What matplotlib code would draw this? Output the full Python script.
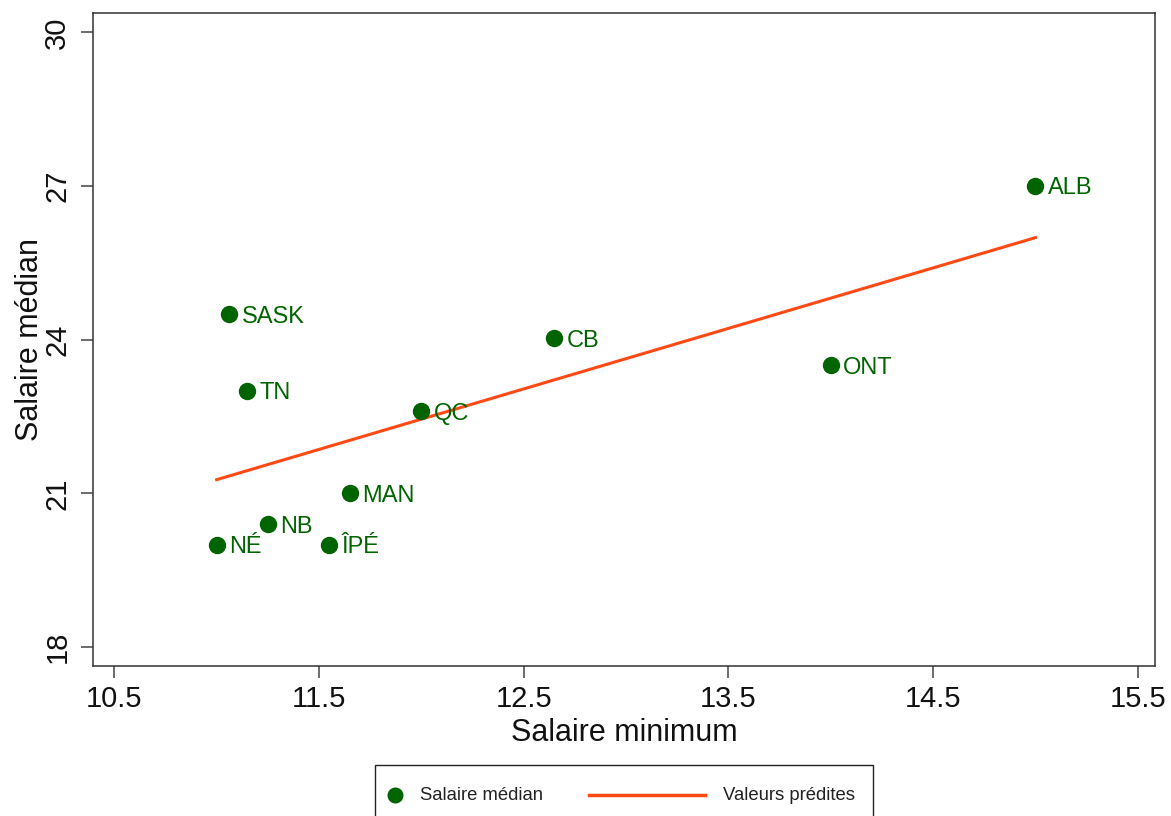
import numpy as np
import matplotlib
matplotlib.use("Agg")
import matplotlib.pyplot as plt
from matplotlib.lines import Line2D
from matplotlib.offsetbox import AnchoredOffsetbox, DrawingArea, HPacker, TextArea

plt.rcParams['font.family'] = ['Liberation Sans', 'DejaVu Sans']

# provinces: minimum wage vs median wage
provinces = ['ALB', 'ONT', 'CB', 'SASK', 'TN', 'QC', 'MAN', 'NB', 'NÉ', 'ÎPÉ']
salaire_min = [15.0, 14.0, 12.65, 11.06, 11.15, 12.0, 11.65, 11.25, 11.0, 11.55]
salaire_med = [27.0, 23.5, 24.03, 24.5, 23.0, 22.6, 21.0, 20.4, 20.0, 20.0]

x_ticks = [10.5, 11.5, 12.5, 13.5, 14.5, 15.5]
y_ticks = [18, 21, 24, 27, 30]

GREEN = '#006400'
ORANGE = '#ff4a14'
PX = 72 / 100  # pixels -> points at dpi 100

x = np.array(salaire_min)
y = np.array(salaire_med)
slope, inter = np.polyfit(x, y, 1)
xfit = np.array([x.min(), x.max()])
yfit = inter + slope * xfit

fig = plt.figure(figsize=(11.71, 8.16), dpi=100)
ax = fig.add_axes([93 / 1171, 150 / 816, 1062 / 1171, 653 / 816])

ax.plot(xfit, yfit, color=ORANGE, lw=2.2, zorder=2)
ax.plot(x, y, 'o', color=GREEN, ms=11.5, zorder=3)
for name, xi, yi in zip(provinces, salaire_min, salaire_med):
    ax.annotate(name, (xi, yi), xytext=(9, 0), textcoords='offset points',
                va='center_baseline', ha='left', fontsize=17, color=GREEN)

ax.set_xlim(10.396, 15.584)
ax.set_ylim(17.63, 30.377)
ax.set_xticks(x_ticks)
ax.set_xticklabels([str(t) for t in x_ticks])
ax.set_yticks(y_ticks)
ax.set_yticklabels([str(t) for t in y_ticks], rotation=90, va='center')

ax.tick_params(axis='both', direction='out', length=8.6, width=1.1,
               color='#444444', labelsize=21, labelcolor='#111111')
ax.tick_params(axis='x', pad=5)
ax.tick_params(axis='y', pad=7)
for sp in ax.spines.values():
    sp.set_color('#333333')
    sp.set_linewidth(1.1)

ax.set_xlabel('Salaire minimum', fontsize=22, color='#111111', labelpad=4)
ax.set_ylabel('Salaire médian', fontsize=22, color='#111111', labelpad=-1)

# legend strip under the plot
h = 40 * PX
dot_box = DrawingArea(35 * PX, h, 0, 0)
dot_box.add_artist(Line2D([10 * PX], [h / 2], marker='o', ms=10.5, color=GREEN, ls='none'))
line_box = DrawingArea(180 * PX, h, 0, 0)
line_box.add_artist(Line2D([46 * PX, 162 * PX], [h / 2, h / 2], color=ORANGE, lw=2.5))
txt1 = TextArea('Salaire médian', textprops=dict(fontsize=13.3, color='#222222'))
txt2 = TextArea('Valeurs prédites', textprops=dict(fontsize=13.3, color='#222222'))
tail = DrawingArea(8 * PX, h, 0, 0)
pack = HPacker(children=[dot_box, txt1, line_box, txt2, tail], align='center', pad=0, sep=0)

leg = AnchoredOffsetbox(loc='upper left', child=pack, pad=0.72, borderpad=0,
                        frameon=True, prop=dict(size=10),
                        bbox_to_anchor=(375 / 1171, 1 - 765 / 816),
                        bbox_transform=fig.transFigure)
leg.patch.set_edgecolor('#222222')
leg.patch.set_linewidth(1.0)
leg.patch.set_boxstyle('square', pad=0)
fig.add_artist(leg)

fig.savefig('out.png', dpi=100)
